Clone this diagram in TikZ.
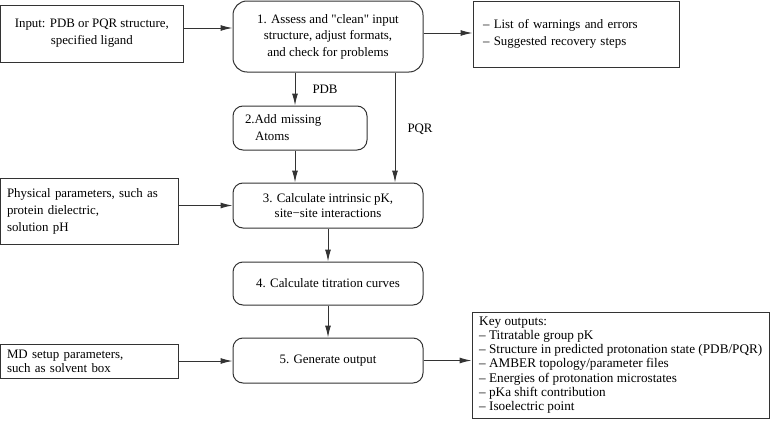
\documentclass[tikz,border=0pt]{standalone}
\usepackage{fontspec}
\setmainfont{Liberation Serif}[Ligatures=TeXOff]
\usetikzlibrary{arrows.meta}
\begin{document}
\begin{tikzpicture}[x=1pt,y=-1pt,font=\fontsize{12.9}{17}\selectfont,
	box/.style={draw=black!80,line width=1pt,inner sep=0pt,text=black},
	rbox/.style={box,rounded corners=10pt},
	flow/.style={draw=black!80,line width=1pt,-{Latex[length=12pt,width=6pt]}},
	lbl/.style={inner sep=0pt,text=black}]
	\useasboundingbox (0,0) rectangle (771,423);
	\node[box,minimum width=182.4pt,minimum height=57pt,align=center] (inp) at (91.8,33.5) {Input: PDB or PQR structure,\\specified ligand};
	\node[rbox,rounded corners=14pt,minimum width=190pt,minimum height=71pt,align=center,font=\fontsize{12.9}{16.5}\selectfont] (s1) at (328,36.5) {1. Assess and "clean" input\\structure, adjust formats,\\and check for problems};
	\node[box,minimum width=206pt,minimum height=66pt,text width=186pt,align=left] (warn) at (576,34) {– List of warnings and errors\\– Suggested recovery steps};
	\node[rbox,minimum width=134pt,minimum height=44pt,text width=110pt,align=left] (s2) at (300,128) {2.Add missing\\\hspace*{10pt}Atoms};
	\node[rbox,minimum width=190pt,minimum height=45pt,align=center,font=\fontsize{12.9}{15.5}\selectfont] (s3) at (328,205.5) {3. Calculate intrinsic pK,\\site−site interactions};
	\node[rbox,minimum width=190pt,minimum height=43pt] (s4) at (328,283.5) {4. Calculate titration curves};
	\node[rbox,minimum width=190pt,minimum height=45pt] (s5) at (328,360.5) {5. Generate output};
	\node[box,minimum width=177.4pt,minimum height=66pt,text width=164.6pt,align=left] (phys) at (89.3,211) {Physical parameters, such as\\protein dielectric,\\solution pH};
	\node[box,minimum width=177.4pt,minimum height=34pt,text width=164.6pt,align=left,font=\fontsize{12.9}{14.3}\selectfont] (md) at (89.3,361) {MD setup parameters,\\such as solvent box};
	\node[box,minimum width=297.5pt,minimum height=106pt,align=left,font=\fontsize{13.2}{14.3}\selectfont] (keyout) at (620.75,365) {Key outputs:\\– Titratable group pK\\– Structure in predicted protonation state (PDB/PQR)\\– AMBER topology/parameter files\\– Energies of protonation microstates\\– pKa shift contribution\\– Isoelectric point};
	\draw[flow] ([yshift=5.5pt]inp.east) -- ([yshift=5.5pt]inp.east -| s1.west);
	\draw[flow] ([yshift=3.5pt]s1.east) -- ([yshift=3.5pt]s1.east -| warn.west);
	\draw[flow] ([xshift=-33pt]s1.south) -- node[lbl,pos=0.5,right=17pt] (pdb) {PDB} ([xshift=-33pt]s1.south |- s2.north);
	\draw[flow] ([xshift=-5pt]s2.south) -- ([xshift=-5pt]s2.south |- s3.north);
	\draw[flow] ([xshift=67pt]s1.south) -- node[lbl,pos=0.52,right=12pt] (pqr) {PQR} ([xshift=67pt]s1.south |- s3.north);
	\draw[flow] (phys.east |- s3.west) -- (s3.west);
	\draw[flow] (s3.south) -- (s4.north);
	\draw[flow] (s4.south) -- (s5.north);
	\draw[flow] (md.east) -- (md.east -| s5.west);
	\draw[flow] (s5.east) -- (s5.east -| keyout.west);
\end{tikzpicture}
\end{document}
